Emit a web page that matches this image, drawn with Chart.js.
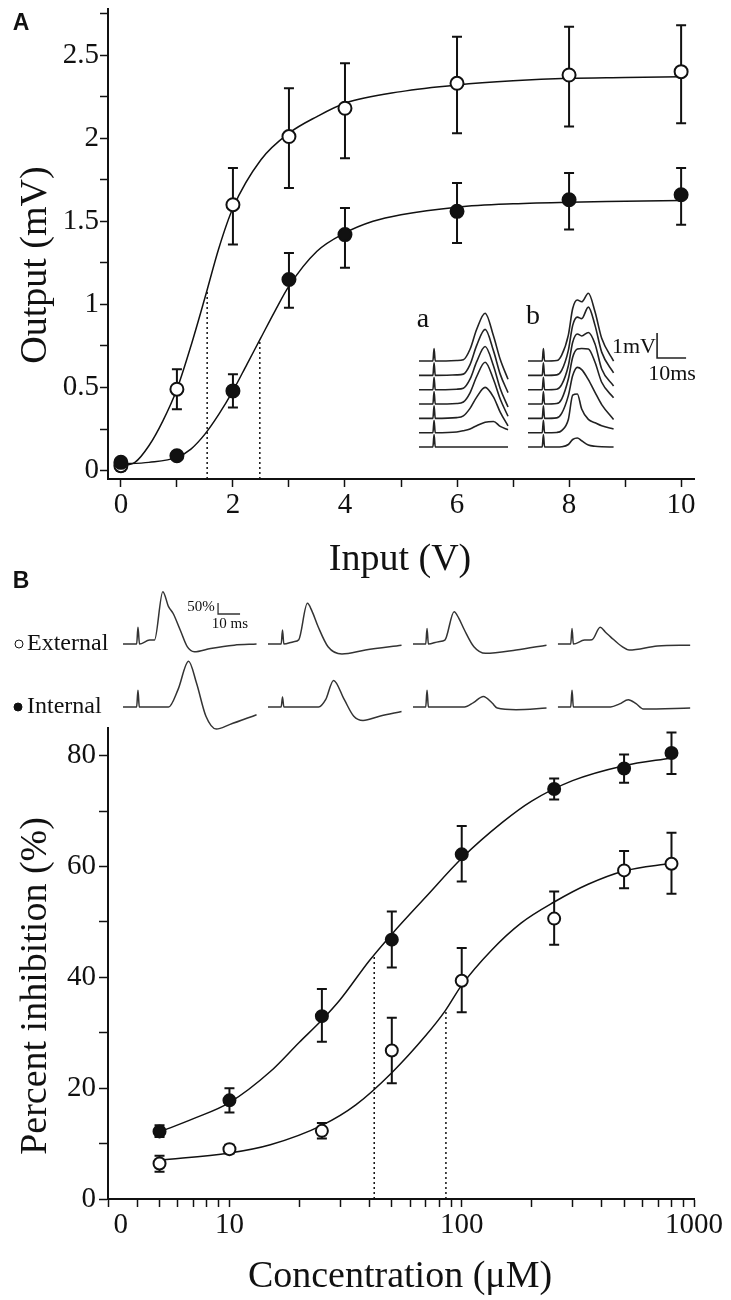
<!DOCTYPE html>
<html>
<head>
<meta charset="utf-8">
<script src="https://cdn.jsdelivr.net/npm/chart.js@4.4.0/dist/chart.umd.min.js"></script>
<style>
body { margin:0; background:#fff; }
#wrap { position:relative; width:731px; height:1300px; background:#fff; font-family:'Liberation Serif', serif; color:#111; overflow:hidden; }
canvas { position:absolute; }
.t { position:absolute; transform:translate(-50%,-50%); white-space:nowrap; line-height:1; }
.l { position:absolute; transform:translateY(-50%); white-space:nowrap; line-height:1; }
.rot { transform:translate(-50%,-50%) rotate(-90deg); }
.panel { font-family:'Liberation Sans', Arial, sans-serif; font-weight:bold; font-size:23px; }
.dot { position:absolute; width:7px; height:7px; border-radius:50%; border:1.4px solid #111; transform:translate(-50%,-50%); }
</style>
</head>
<body>
<div id="wrap">
  <canvas id="chartA" width="731" height="590" style="left:0;top:0"></canvas>
  <canvas id="insetA" width="290" height="170" style="left:410px;top:290px"></canvas>
  <canvas id="chartB" width="731" height="710" style="left:0;top:590px"></canvas>
  <canvas id="tracesB" width="585" height="155" style="left:115px;top:585px"></canvas>

  <div class="t panel" style="left:21px;top:22px">A</div>
  <div class="t panel" style="left:21px;top:580px">B</div>
  <div class="t rot" style="left:33px;top:265px;font-size:38px">Output (mV)</div>
  <div class="t" style="left:400px;top:557px;font-size:38px">Input (V)</div>
  <div class="t rot" style="left:33px;top:986px;font-size:38px">Percent inhibition (%)</div>
  <div class="t" style="left:400px;top:1274px;font-size:38px">Concentration (μM)</div>

  <div class="t" style="left:423px;top:318px;font-size:28px">a</div>
  <div class="t" style="left:533px;top:315px;font-size:28px">b</div>
  <div class="t" style="left:634px;top:346px;font-size:22px">1mV</div>
  <div class="t" style="left:672px;top:373px;font-size:22px">10ms</div>

  <div class="dot" style="left:19px;top:644px;background:#fff"></div>
  <div class="l" style="left:27px;top:642px;font-size:24px">External</div>
  <div class="dot" style="left:18px;top:707px;background:#111"></div>
  <div class="l" style="left:27px;top:705px;font-size:24px">Internal</div>
  <div class="t" style="left:201px;top:606px;font-size:15px">50%</div>
  <div class="t" style="left:230px;top:623px;font-size:15px">10 ms</div>
</div>

<script>
// ---------- panel A data (input V -> output mV)
var inputV = [0, 1, 2, 3, 4, 6, 8, 10];
var openOut = [0.03, 0.49, 1.60, 2.01, 2.18, 2.33, 2.38, 2.40];
var openLow = [0.00, 0.37, 1.36, 1.70, 1.88, 2.03, 2.07, 2.09];
var openHigh = [0.06, 0.61, 1.82, 2.30, 2.45, 2.61, 2.67, 2.68];
var fillOut = [0.05, 0.09, 0.48, 1.15, 1.42, 1.56, 1.63, 1.66];
var fillLow = [0.03, 0.07, 0.38, 0.98, 1.22, 1.37, 1.45, 1.48];
var fillHigh = [0.07, 0.11, 0.58, 1.31, 1.58, 1.73, 1.79, 1.82];

var openFitX = [0, 0.25, 0.5, 0.75, 1, 1.25, 1.5, 1.75, 2, 2.5, 3, 3.5, 4, 5, 6, 7, 8, 9, 10];
var openFitY = [0.03, 0.05, 0.15, 0.30, 0.49, 0.75, 1.04, 1.34, 1.58, 1.87, 2.03, 2.13, 2.21, 2.28, 2.32, 2.345, 2.36, 2.365, 2.37];
var fillFitX = [0, 0.5, 1, 1.25, 1.5, 1.75, 2, 2.25, 2.5, 2.75, 3, 3.5, 4, 4.5, 5, 6, 7, 8, 9, 10];
var fillFitY = [0.04, 0.05, 0.08, 0.13, 0.22, 0.34, 0.48, 0.64, 0.80, 0.96, 1.11, 1.32, 1.43, 1.50, 1.54, 1.585, 1.605, 1.615, 1.62, 1.625];
var aHalfX = [1.54, 2.48];
var aHalfY = [1.09, 0.79];

var aXTicks = [0, 1, 2, 3, 4, 5, 6, 7, 8, 9, 10];
var aXLabels = ['0', '', '2', '', '4', '', '6', '', '8', '', '10'];
var aYTicks = [0, 0.25, 0.5, 0.75, 1, 1.25, 1.5, 1.75, 2, 2.25, 2.5, 2.75];
var aYLabels = ['0', '', '0.5', '', '1', '', '1.5', '', '2', '', '2.5', ''];

// inset traces (ms, mV), one row per stimulus, top row first
var traceTa = [0, 4.8, 5.2, 5.6, 13, 15.3, 17.6, 19.9, 22.8, 25.7, 28.0, 30.7];
var tracesA = [
  [0, 0, 0.5, 0, 0.02, 0.05, 0.47, 1.27, 1.91, 1.00, 0.07, -0.73],
  [0, 0, 0.5, 0, 0.02, 0.05, 0.43, 1.20, 1.84, 0.98, 0.05, -0.69],
  [0, 0, 0.5, 0, 0.02, 0.06, 0.42, 1.12, 1.73, 0.95, 0.05, -0.69],
  [0, 0, 0.5, 0, 0.02, 0.08, 0.45, 1.10, 1.67, 0.98, 0.20, -0.49],
  [0, 0, 0.5, 0, 0.03, 0.10, 0.40, 0.85, 1.24, 0.85, 0.25, -0.30],
  [0, 0, 0.5, 0, 0.03, 0.08, 0.15, 0.28, 0.42, 0.45, 0.25, 0.12],
  [0, 0, 0.5, 0, 0, 0, 0, 0, 0, 0, 0, 0]
];
var traceTb = [0, 4.9, 5.3, 5.7, 9.9, 11.6, 13.9, 15.4, 17.0, 18.5, 20.8, 23.1, 25.4, 29.5];
var tracesBins = [
  [0, 0, 0.5, 0, 0.02, 0.24, 1.04, 2.10, 2.44, 2.37, 2.71, 1.97, 0.91, 0.00],
  [0, 0, 0.5, 0, 0.02, 0.20, 1.00, 2.00, 2.33, 2.27, 2.73, 2.00, 0.93, 0.10],
  [0, 0, 0.5, 0, 0.02, 0.20, 0.96, 1.90, 2.23, 2.15, 2.29, 1.83, 0.83, 0.15],
  [0, 0, 0.5, 0, 0.02, 0.20, 1.00, 1.87, 2.20, 2.22, 2.20, 1.67, 0.87, 0.25],
  [0, 0, 0.5, 0, 0.02, 0.20, 0.91, 1.71, 2.04, 1.95, 1.55, 1.04, 0.55, -0.05],
  [0, 0, 0.5, 0, 0.01, 0.08, 0.53, 1.50, 1.55, 0.95, 0.53, 0.40, 0.28, 0.15],
  [0, 0, 0.5, 0, 0, 0.01, 0.10, 0.30, 0.36, 0.25, 0.08, 0.03, 0.01, 0]
];

// ---------- panel B data (concentration uM -> % inhibition)
var concUM = [5, 10, 25, 50, 100, 250, 500, 800];
var intInh = [12.2, 17.8, 33.0, 46.8, 62.2, 74.0, 77.7, 80.5];
var intLow = [11.2, 15.6, 28.4, 41.8, 57.3, 72.1, 75.1, 76.7];
var intHigh = [13.3, 20.0, 37.9, 51.9, 67.3, 75.9, 80.2, 84.2];
var extInh = [6.4, 9.0, 12.3, 26.8, 39.4, 50.6, 59.3, 60.5];
var extLow = [4.9, 8.2, 10.9, 20.9, 33.7, 45.9, 56.1, 55.1];
var extHigh = [7.8, 9.8, 13.7, 32.7, 45.3, 55.5, 62.8, 66.1];

var intFitX = [5, 7, 10, 15, 20, 25, 30, 40, 50, 70, 100, 150, 200, 300, 500, 800];
var intFitY = [12.1, 14.5, 17.4, 23.0, 28.3, 32.3, 36.0, 43.0, 47.8, 54.5, 61.5, 68.0, 71.8, 75.5, 78.2, 79.6];
var extFitX = [5, 10, 15, 25, 35, 50, 70, 85, 100, 135, 180, 250, 350, 500, 800];
var extFitY = [7.0, 8.3, 9.8, 13.3, 17.0, 22.8, 29.5, 34.0, 38.6, 45.0, 49.8, 53.6, 56.8, 59.2, 60.6];
var bHalfX = [42, 85.5];
var bHalfY = [44.0, 34.0];

var bXTicks = [3, 3.4, 4, 5, 6, 7, 8, 9, 10, 20, 30, 40, 50, 60, 70, 80, 90, 100, 200, 300, 400, 500, 600, 700, 800, 900, 1000];
var bXLabelAt = [3.4, 10, 100, 1000];
var bXLabels = ['0', '10', '100', '1000'];
var bYTicks = [0, 10, 20, 30, 40, 50, 60, 70, 80];
var bYLabels = ['0', '', '20', '', '40', '', '60', '', '80'];

// example traces (ms, %), one per concentration
var extTraceT = [
  [0, 6.2, 6.8, 7.5, 12.1, 14.3, 18.1, 20.7, 22.8, 26.0, 29.2, 32.4, 39.8, 50.5, 60.7],
  [0, 6.0, 6.6, 7.2, 11.7, 14.0, 17.9, 20.0, 22.8, 27.3, 33.6, 44.3, 60.7],
  [0, 5.8, 6.4, 7.0, 11.7, 14.5, 18.7, 20.8, 23.4, 27.7, 33.0, 46.9, 60.7],
  [0, 5.8, 6.4, 7.0, 12.1, 15.5, 19.2, 21.5, 23.9, 29.2, 32.4, 45.2, 60.1]
];
var extTraceV = [
  [0, 0, 76, 0, 18, 18, 238, 170, 139, 64, -12, -35, -20, -5, 0],
  [0, 0, 64, 0, 11, 20, 185, 150, 79, -12, -45, -27, -5],
  [0, 0, 71, 0, 11, 18, 147, 118, 64, -12, -42, -27, -5],
  [0, 0, 71, 0, 18, 20, 76, 55, 33, -12, -27, -9, -5]
];
var intTraceT = [
  [0, 6.2, 6.8, 7.4, 20.7, 25.0, 29.8, 33.4, 37.7, 42.4, 48.4, 60.7],
  [0, 6.0, 6.6, 7.2, 23.0, 26.2, 29.8, 34.7, 39.0, 43.2, 50.7, 60.7],
  [0, 5.8, 6.4, 7.0, 23.4, 27.5, 32.0, 36.0, 38.3, 46.9, 60.7],
  [0, 5.8, 6.4, 7.0, 23.9, 28.0, 32.0, 35.5, 38.8, 60.1]
];
var intTraceV = [
  [0, 0, 76, 0, 0, 79, 208, 109, -42, -100, -80, -35],
  [0, 0, 45, 0, 0, 33, 121, 33, -42, -61, -42, -20],
  [0, 0, 76, 0, 0, 20, 48, 18, -5, -12, -5],
  [0, 0, 76, 0, 0, 14, 33, 15, -9, -5]
];

// ---------- helpers
var ink = '#111';
var serif = 'Liberation Serif';

function pts(xs, ys) {
  return xs.map(function (x, i) { return { x: x, y: ys[i] }; });
}

function fixBox(size) {
  return function (s) {
    if (s.isHorizontal()) s.height = size; else s.width = size;
    s.paddingTop = s.paddingBottom = s.paddingLeft = s.paddingRight = 0;
  };
}

var errorBars = {
  id: 'errorBars',
  beforeDatasetsDraw: function (chart) {
    var ctx = chart.ctx, xs = chart.scales.x, ys = chart.scales.y;
    ctx.save();
    ctx.strokeStyle = ink;
    ctx.lineWidth = 2;
    chart.data.datasets.forEach(function (ds) {
      if (!ds.errLow) return;
      ds.data.forEach(function (p, i) {
        var px = xs.getPixelForValue(p.x);
        var lo = ys.getPixelForValue(ds.errLow[i]);
        var hi = ys.getPixelForValue(ds.errHigh[i]);
        ctx.beginPath();
        ctx.moveTo(px, lo); ctx.lineTo(px, hi);
        ctx.moveTo(px - 5, lo); ctx.lineTo(px + 5, lo);
        ctx.moveTo(px - 5, hi); ctx.lineTo(px + 5, hi);
        ctx.stroke();
      });
    });
    ctx.restore();
  }
};

function markers(xs, ys, lo, hi, filled, r) {
  return {
    data: pts(xs, ys), errLow: lo, errHigh: hi, showLine: false,
    pointStyle: 'circle', pointRadius: r, pointBorderWidth: 2,
    pointBorderColor: ink, pointBackgroundColor: filled ? ink : '#fff', order: 0
  };
}
function fitLine(xs, ys) {
  return { data: pts(xs, ys), borderColor: ink, borderWidth: 1.5, pointRadius: 0,
    cubicInterpolationMode: 'monotone', order: 2 };
}
function dotted(x, y, base) {
  return { data: [{ x: x, y: base }, { x: x, y: y }], borderColor: ink, borderWidth: 1.5,
    borderDash: [2, 3], pointRadius: 0, order: 3 };
}

function axis(type, min, max, ticks, labelOf, box, tickLen, pad) {
  return {
    type: type, min: min, max: max,
    afterBuildTicks: function (s) { s.ticks = ticks.map(function (v) { return { value: v }; }); },
    afterFit: fixBox(box),
    ticks: { autoSkip: false, maxRotation: 0, minRotation: 0, padding: pad, color: ink,
      font: { family: serif, size: 29 }, callback: labelOf },
    grid: { drawOnChartArea: false, tickLength: tickLen, tickWidth: 1.5,
      tickColor: function (c) { return c.tick && c.tick.value === 3.4 ? 'rgba(0,0,0,0)' : ink; } },
    border: { color: ink, width: 2 }
  };
}

var quiet = { legend: { display: false }, tooltip: { enabled: false } };

// ---------- chart A
new Chart('chartA', {
  type: 'line',
  data: {
    datasets: [
      markers(inputV, fillOut, fillLow, fillHigh, true, 6.5),
      markers(inputV, openOut, openLow, openHigh, false, 6.5),
      fitLine(openFitX, openFitY),
      fitLine(fillFitX, fillFitY),
      dotted(aHalfX[0], aHalfY[0], -0.05),
      dotted(aHalfX[1], aHalfY[1], -0.05)
    ]
  },
  options: {
    responsive: false, animation: false, events: [],
    layout: { padding: { top: 7, right: 37, left: 0, bottom: 0 } },
    plugins: quiet,
    scales: {
      x: axis('linear', -0.23, 10.23, aXTicks, function (v) { return aXLabels[aXTicks.indexOf(v)]; }, 111, 8, 1),
      y: axis('linear', -0.05, 2.78, aYTicks, function (v) { return aYLabels[aYTicks.indexOf(v)]; }, 108, 8, 1)
    }
  },
  plugins: [errorBars]
});

// ---------- inset traces of panel A
var rowStep = 0.573, bShift = 37.6;
var insetSets = [];
tracesA.forEach(function (row, k) {
  insetSets.push({ data: traceTa.map(function (t, i) { return { x: t, y: row[i] + (6 - k) * rowStep }; }) });
});
tracesBins.forEach(function (row, k) {
  insetSets.push({ data: traceTb.map(function (t, i) { return { x: t + bShift, y: row[i] + (6 - k) * rowStep }; }) });
});
insetSets.push({ data: [{ x: 82.1, y: 4.56 }, { x: 82.1, y: 3.56 }, { x: 92.1, y: 3.56 }],
  cubicInterpolationMode: 'default', tension: 0 });

new Chart('insetA', {
  type: 'line',
  data: { datasets: insetSets },
  options: {
    responsive: false, animation: false, events: [],
    layout: { padding: 0 },
    plugins: quiet,
    elements: { point: { radius: 0 }, line: { borderWidth: 1.6, borderColor: '#222', cubicInterpolationMode: 'monotone' } },
    scales: {
      x: { type: 'linear', display: false, min: -3.1, max: 96.9 },
      y: { type: 'linear', display: false, min: -0.52, max: 6.28 }
    }
  }
});

// ---------- chart B
new Chart('chartB', {
  type: 'line',
  data: {
    datasets: [
      markers(concUM, intInh, intLow, intHigh, true, 6),
      markers(concUM, extInh, extLow, extHigh, false, 6),
      fitLine(intFitX, intFitY),
      fitLine(extFitX, extFitY),
      dotted(bHalfX[0], bHalfY[0], 0),
      dotted(bHalfX[1], bHalfY[1], 0)
    ]
  },
  options: {
    responsive: false, animation: false, events: [],
    layout: { padding: { top: 138, right: 37, left: 0, bottom: 0 } },
    plugins: quiet,
    scales: {
      x: axis('logarithmic', 3, 1000, bXTicks, function (v) {
        var i = bXLabelAt.indexOf(v); return i < 0 ? '' : bXLabels[i];
      }, 101, 8, 1),
      y: axis('linear', 0, 85, bYTicks, function (v) { return bYLabels[bYTicks.indexOf(v)]; }, 108, 9, 3)
    }
  },
  plugins: [errorBars]
});

// ---------- example traces above panel B
var colShift = 65.9, extLift = 286;
var bTraceSets = [];
extTraceT.forEach(function (ts, k) {
  bTraceSets.push({ data: ts.map(function (t, i) { return { x: t + k * colShift, y: extTraceV[k][i] + extLift }; }) });
});
intTraceT.forEach(function (ts, k) {
  bTraceSets.push({ data: ts.map(function (t, i) { return { x: t + k * colShift, y: intTraceV[k][i] }; }) });
});
bTraceSets.push({ data: [{ x: 43.2, y: 472.7 }, { x: 43.2, y: 422.7 }, { x: 53.2, y: 422.7 }],
  cubicInterpolationMode: 'default', tension: 0, borderWidth: 1.3 });

new Chart('tracesB', {
  type: 'line',
  data: { datasets: bTraceSets },
  options: {
    responsive: false, animation: false, events: [],
    layout: { padding: 0 },
    plugins: quiet,
    elements: { point: { radius: 0 }, line: { borderWidth: 1.5, borderColor: '#333', cubicInterpolationMode: 'monotone' } },
    scales: {
      x: { type: 'linear', display: false, min: -3.64, max: 262.27 },
      y: { type: 'linear', display: false, min: -150, max: 554.5 }
    }
  }
});
</script>
</body>
</html>
